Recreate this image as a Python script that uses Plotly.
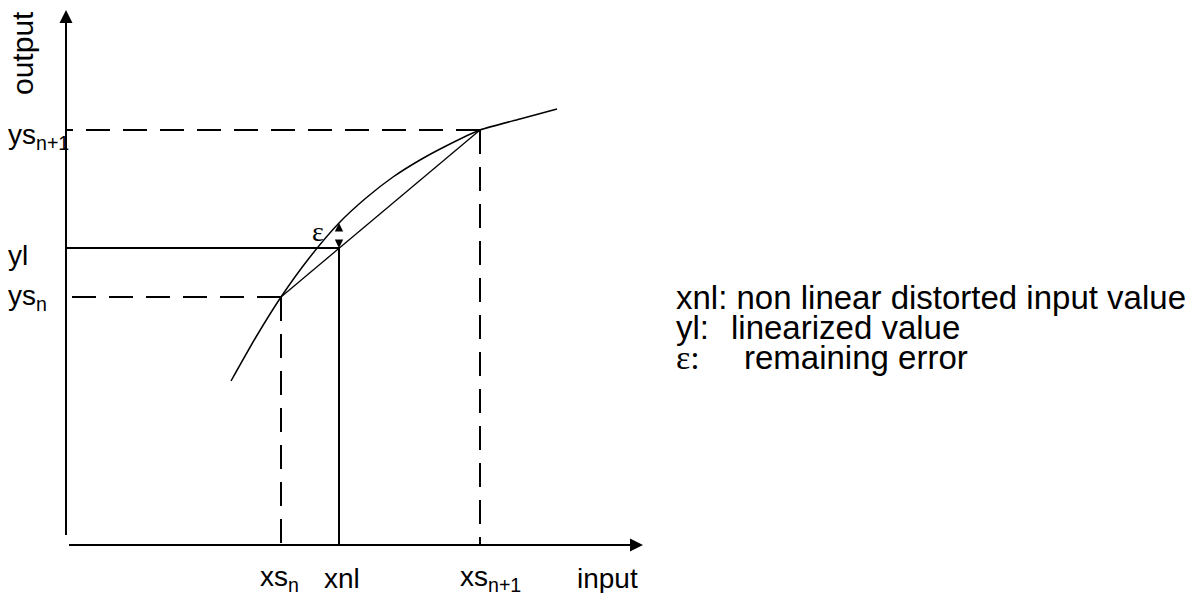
import plotly.graph_objects as go

# ---- data (origin = axes intersection) ----
xs_n, xnl, xs_n1 = 215, 273, 414
ys_n, yl, ys_n1 = 248, 297, 415
curve_x = [165, 190, 215, 244, 273, 300, 327, 354, 380, 414, 454, 491]
curve_y = [164, 208, 248, 288, 322, 347, 368, 385, 399, 415, 426, 436]
x_axis_end, y_axis_end = 577, 535
x_tick_labels = ["xs<sub>n</sub>", "xnl", "xs<sub>n+1</sub>"]
y_tick_labels = ["ys<sub>n</sub>", "yl", "ys<sub>n+1</sub>"]
legend_keys = ["xnl:", "yl:", "ε:"]
legend_texts = ["non linear distorted input value", "linearized value", "remaining error"]

FONT = "Liberation Sans"
BLACK = "black"

fig = go.Figure()

# curve
fig.add_trace(go.Scatter(x=curve_x, y=curve_y, mode="lines",
                         line=dict(color=BLACK, width=1.5, shape="spline", smoothing=0.6),
                         hoverinfo="skip"))
# chord
fig.add_trace(go.Scatter(x=[xs_n, xs_n1], y=[ys_n, ys_n1], mode="lines",
                         line=dict(color=BLACK, width=1.3), hoverinfo="skip"))
# dashed guides
dash = "24px,13px"
for (gx, gy) in [([xs_n1, 0], [ys_n1, ys_n1]), ([xs_n1, xs_n1], [ys_n1, 0]),
                 ([xs_n, 0], [ys_n, ys_n]), ([xs_n, xs_n], [ys_n, 0])]:
    fig.add_trace(go.Scatter(x=gx, y=gy, mode="lines",
                             line=dict(color=BLACK, width=2, dash=dash), hoverinfo="skip"))
# solid guides for xnl / yl
fig.add_trace(go.Scatter(x=[0, xnl, xnl], y=[yl, yl, 0], mode="lines",
                         line=dict(color=BLACK, width=2), hoverinfo="skip"))

ann = []
# axes arrows
ann.append(dict(x=x_axis_end, y=0, ax=0, ay=0, xref="x", yref="y", axref="x", ayref="y",
                showarrow=True, arrowhead=2, arrowsize=1.3, arrowwidth=2, arrowcolor=BLACK,
                standoff=0, startstandoff=0, text=" "))
ann.append(dict(x=0, y=y_axis_end, ax=0, ay=0, xref="x", yref="y", axref="x", ayref="y",
                showarrow=True, arrowhead=2, arrowsize=1.3, arrowwidth=2, arrowcolor=BLACK,
                standoff=0, startstandoff=0, text=" "))
# epsilon double arrow: two half arrows from the middle outward
eps_top = 322
eps_mid = (eps_top + yl) / 2
for tip in (eps_top, yl):
    ann.append(dict(x=xnl, y=tip, ax=xnl, ay=eps_mid, xref="x", yref="y", axref="x", ayref="y",
                    showarrow=True, arrowhead=2, arrowsize=1.4, arrowwidth=1.2,
                    arrowcolor=BLACK, standoff=0, startstandoff=0, text=" "))
ann.append(dict(x=252, y=314, text="ε", showarrow=False, xanchor="center", yanchor="middle",
                font=dict(family="Liberation Serif", size=28, color=BLACK)))

lab_font = dict(family=FONT, size=28, color=BLACK)
# axis titles
ann.append(dict(x=-44, y=492, text="output", textangle=-90, showarrow=False,
                xanchor="center", yanchor="middle", font=dict(family=FONT, size=30, color=BLACK)))
ann.append(dict(x=541, y=-33, text="input", showarrow=False,
                xanchor="center", yanchor="middle", font=lab_font))
# x tick labels
for xv, t, dx in zip([xs_n, xnl, xs_n1], x_tick_labels, [-2, 3, 10]):
    ann.append(dict(x=xv + dx, y=-33, text=t, showarrow=False,
                    xanchor="center", yanchor="middle", font=lab_font))
# y tick labels (anchored just inside the range, shifted left to the edge)
for yv, t, dy in zip([ys_n, yl, ys_n1], y_tick_labels, [0, -7, -6]):
    ann.append(dict(x=-57, y=yv + dy, xshift=-3, text=t, showarrow=False,
                    xanchor="left", yanchor="middle", font=lab_font))
# legend text
leg_font = dict(family=FONT, size=33, color=BLACK)
leg_y = [248, 218, 188]
leg_text_x = [None, 663, 676]
for i, (k, t) in enumerate(zip(legend_keys, legend_texts)):
    if i == 0:
        ann.append(dict(x=608, y=leg_y[i], text=k + " " + t, showarrow=False,
                        xanchor="left", yanchor="middle", font=leg_font))
    else:
        kf = leg_font if i == 1 else dict(family="Liberation Serif", size=34, color=BLACK)
        ann.append(dict(x=608, y=leg_y[i], text=k, showarrow=False,
                        xanchor="left", yanchor="middle", font=kf))
        ann.append(dict(x=leg_text_x[i], y=leg_y[i], text=t, showarrow=False,
                        xanchor="left", yanchor="middle", font=leg_font))

# page body has an 8px margin: shrink the figure and shift ranges to compensate
fig.update_layout(
    width=1187, height=585, margin=dict(l=0, r=0, t=0, b=0),
    paper_bgcolor="white", plot_bgcolor="white", showlegend=False,
    xaxis=dict(range=[-58, 1129], visible=False, fixedrange=True),
    yaxis=dict(range=[-48, 537], visible=False, fixedrange=True),
    annotations=ann,
)
fig.write_html("out.html")
